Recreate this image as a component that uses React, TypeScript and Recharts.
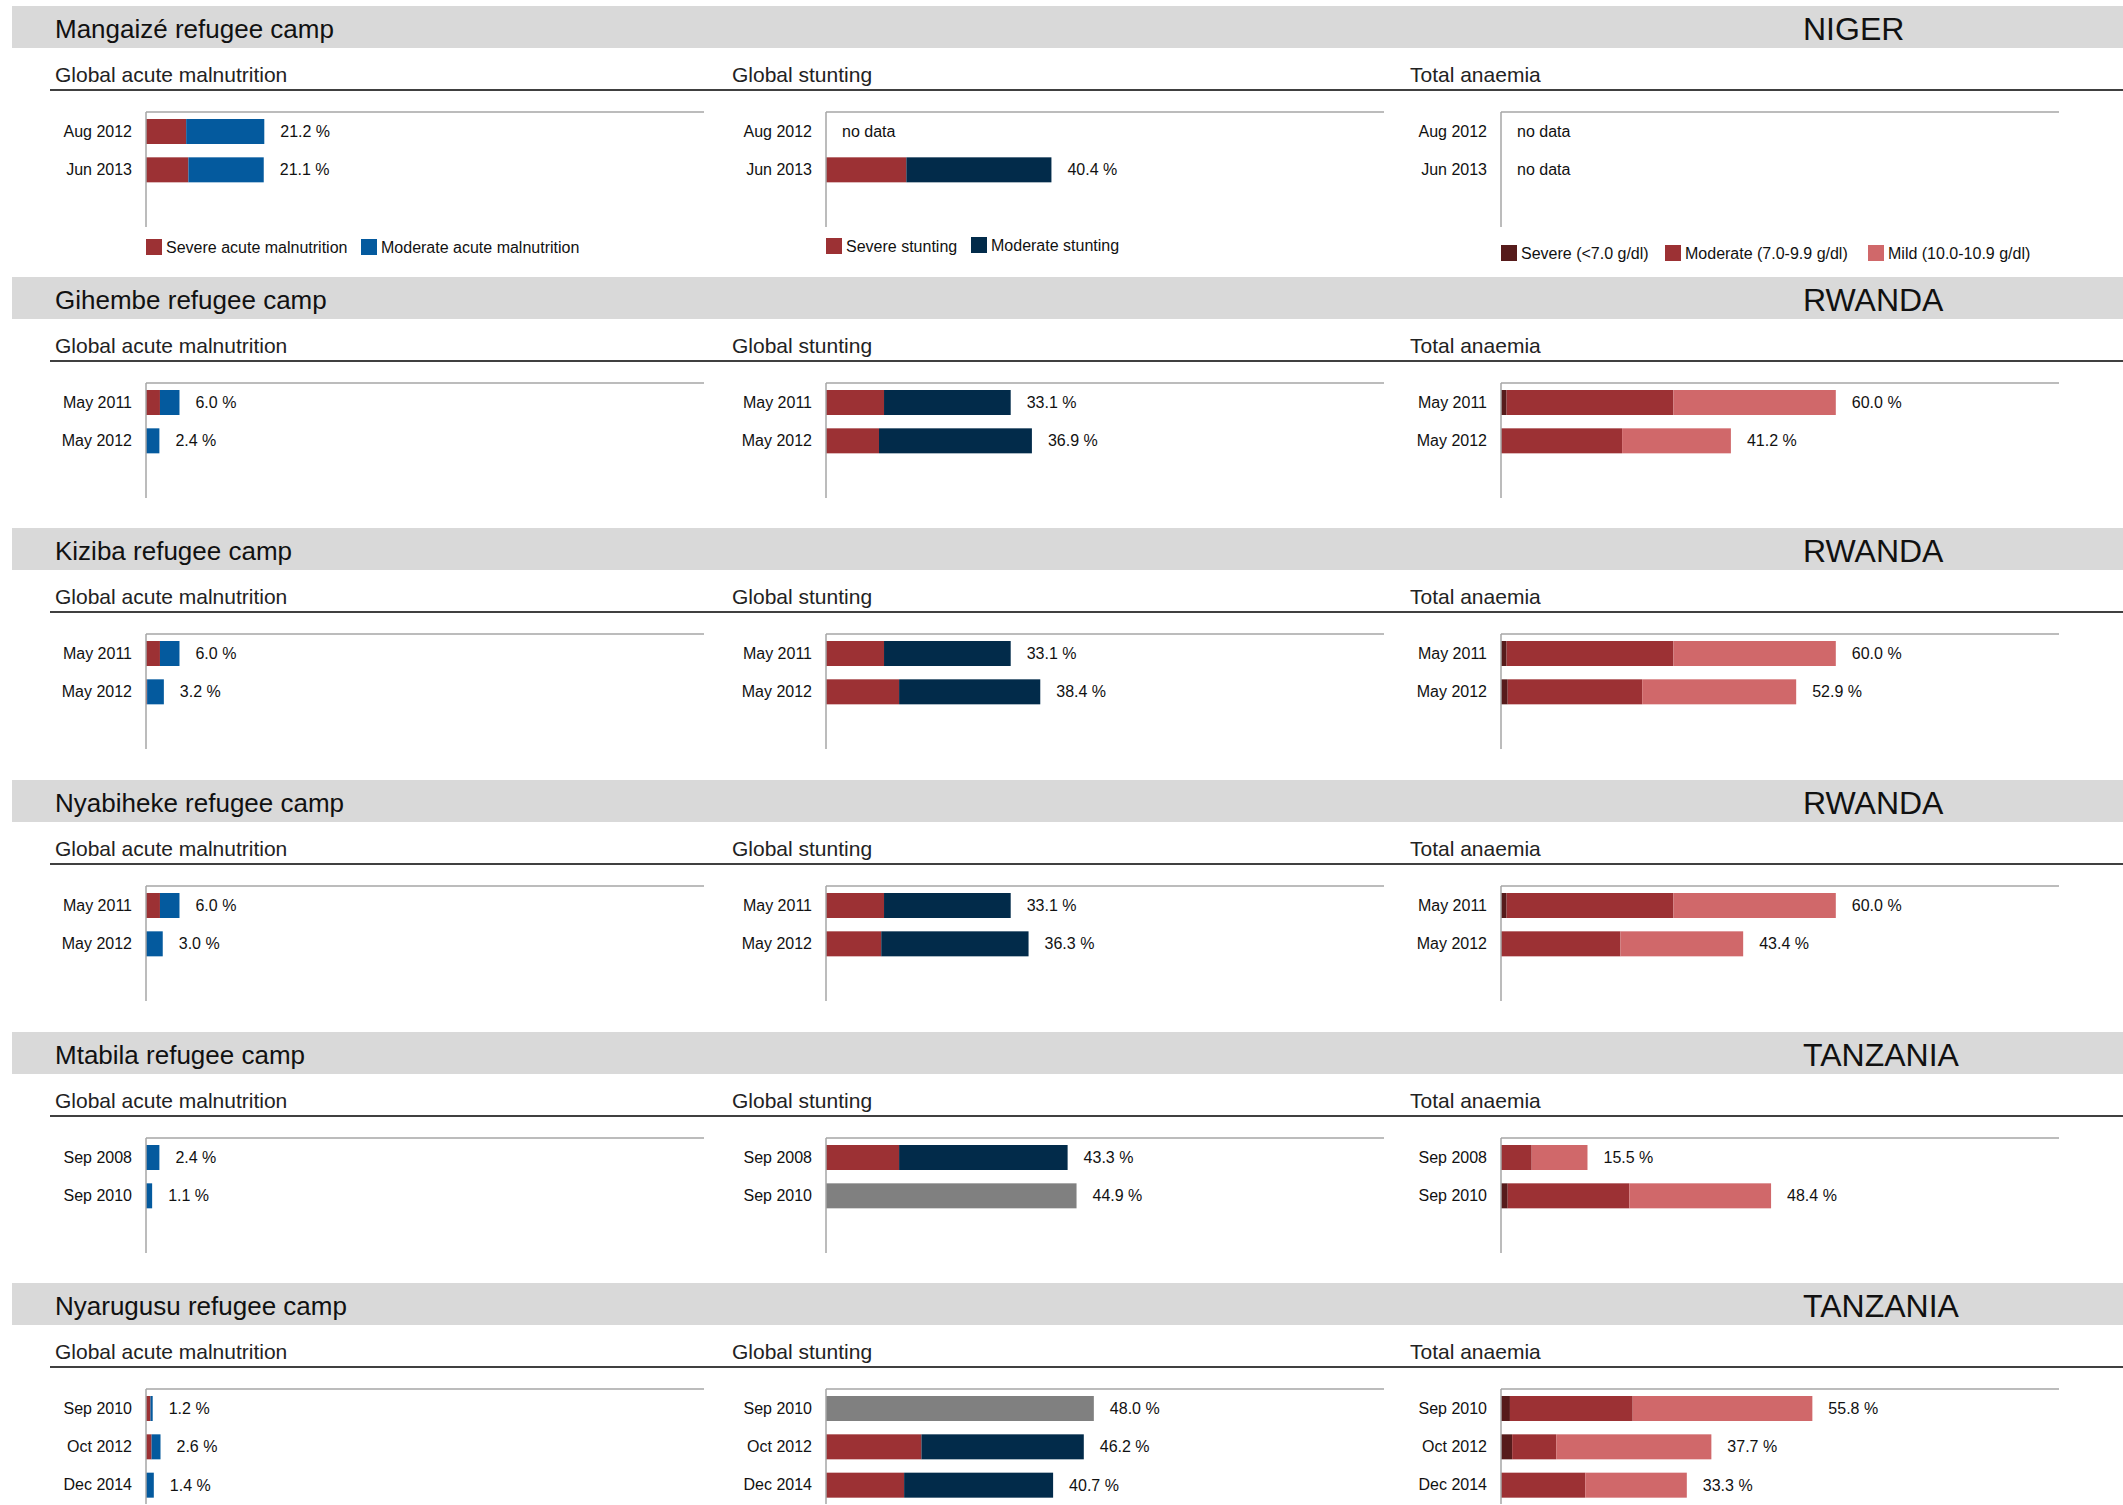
import React from 'react';
import { Bar, BarChart, XAxis, YAxis } from 'recharts';

const camps = [
  'Mangaizé refugee camp',
  'Gihembe refugee camp',
  'Kiziba refugee camp',
  'Nyabiheke refugee camp',
  'Mtabila refugee camp',
  'Nyarugusu refugee camp',
];
const countries = ['NIGER', 'RWANDA', 'RWANDA', 'RWANDA', 'TANZANIA', 'TANZANIA'];
const surveyDates = [
  ['Aug 2012', 'Jun 2013'],
  ['May 2011', 'May 2012'],
  ['May 2011', 'May 2012'],
  ['May 2011', 'May 2012'],
  ['Sep 2008', 'Sep 2010'],
  ['Sep 2010', 'Oct 2012', 'Dec 2014'],
];

// global acute malnutrition
const gamSevere = [[7.2, 7.6], [2.5, 0], [2.5, 0.2], [2.5, 0], [0, 0], [0.8, 1.0, 0]];
const gamModerate = [[14.0, 13.5], [3.5, 2.4], [3.5, 3.0], [3.5, 3.0], [2.4, 1.1], [0.4, 1.6, 1.4]];
const gamTotal = [[21.2, 21.1], [6.0, 2.4], [6.0, 3.2], [6.0, 3.0], [2.4, 1.1], [1.2, 2.6, 1.4]];

// stunting
const stuntSevere = [[null, 14.4], [10.4, 9.5], [10.4, 13.1], [10.4, 9.9], [13.1, null], [null, 17.1, 14.0]];
const stuntModerate = [[null, 26.0], [22.7, 27.4], [22.7, 25.3], [22.7, 26.4], [30.2, null], [null, 29.1, 26.7]];
const stuntNoSplit = [[null, null], [null, null], [null, null], [null, null], [null, 44.9], [48.0, null, null]];
const stuntTotal = [[null, 40.4], [33.1, 36.9], [33.1, 38.4], [33.1, 36.3], [43.3, 44.9], [48.0, 46.2, 40.7]];

// anaemia
const anaSevere = [[null, null], [1.0, 0], [1.0, 1.2], [1.0, 0], [0, 1.2], [1.6, 2.0, 0]];
const anaModerate = [[null, null], [29.9, 21.7], [29.9, 24.1], [29.9, 21.4], [5.5, 21.8], [22.0, 7.9, 15.1]];
const anaMild = [[null, null], [29.1, 19.5], [29.1, 27.6], [29.1, 22.0], [10.0, 25.4], [32.2, 27.8, 18.2]];
const anaTotal = [[null, null], [60.0, 41.2], [60.0, 52.9], [60.0, 43.4], [15.5, 48.4], [55.8, 37.7, 33.3]];

const FONT = "'Liberation Sans', Arial, sans-serif";
const RED = '#9C3134';
const BLUE = '#045A9E';
const NAVY = '#022B4A';
const DARK = '#561B1B';
const PINK = '#D0686A';
const GREY = '#808080';
const AXIS = '#A6A6A6';

const sectionTop = [6, 277, 528, 780, 1032, 1283];
const axisX = [146, 826, 1501];
const subtitleX = [55, 732, 1410];
const subtitles = ['Global acute malnutrition', 'Global stunting', 'Total anaemia'];
const YW = 100;
const PLOT_W = 558;

type Row = { date: string; sum: number | null; lastKey: string | null; [k: string]: any };
type Part = { key: string; color: string; values: (number | null)[] };

function buildRows(dates: string[], parts: Part[], totals: (number | null)[]): Row[] {
  const rows: Row[] = dates.map((date, i) => {
    const row: Row = { date, sum: totals[i], lastKey: null };
    parts.forEach(p => {
      const v = p.values[i];
      row[p.key] = v;
      if (v) row.lastKey = p.key;
    });
    return row;
  });
  while (rows.length < 3) rows.push({ date: '', sum: null, lastKey: null });
  return rows;
}

const makeShape = (key: string) => (props: any) => {
  const { x, y, width, height, fill, payload } = props;
  const showLabel = payload && payload.lastKey === key && payload.sum != null;
  return (
    <g>
      <rect x={x} y={y} width={Math.max(0, width)} height={height} fill={fill} />
      {showLabel && (
        <text x={x + width + 16} y={y + height / 2} dy={5.5} fontSize={16} fontFamily={FONT} fill="#111">
          {payload.sum.toFixed(1)} %
        </text>
      )}
    </g>
  );
};

const DateTick = (props: any) => {
  const { y, payload, rows } = props;
  if (!payload || !payload.value) return null;
  const row = rows.find((r: Row) => r.date === payload.value);
  return (
    <g>
      <text x={YW - 14} y={y} dy={5.5} textAnchor="end" fontSize={16} fontFamily={FONT} fill="#111">
        {payload.value}
      </text>
      {row && row.sum == null && (
        <text x={YW + 16} y={y} dy={5.5} fontSize={16} fontFamily={FONT} fill="#111">no data</text>
      )}
    </g>
  );
};

const Panel = ({ rows, parts, left, top }: { rows: Row[]; parts: Part[]; left: number; top: number }) => (
  <div style={{ position: 'absolute', left: left - YW, top: top - 1 }}>
    <BarChart width={YW + PLOT_W} height={116} data={rows} layout="vertical" margin={{ top: 0, right: 0, bottom: 0, left: 0 }} barCategoryGap={0}>
      <XAxis type="number" domain={[0, 100]} orientation="top" height={1} tick={false} tickLine={false} axisLine={{ stroke: AXIS, strokeWidth: 1.5 }} />
      <YAxis type="category" dataKey="date" width={YW} interval={0} tickLine={false} tickSize={0} axisLine={{ stroke: AXIS, strokeWidth: 1.5 }} tick={<DateTick rows={rows} />} />
      {parts.map(p => (
        <Bar key={p.key} dataKey={p.key} stackId="s" fill={p.color} barSize={25} isAnimationActive={false} shape={makeShape(p.key)} />
      ))}
    </BarChart>
  </div>
);

const LegendItem = ({ x, y, color, label }: { x: number; y: number; color: string; label: string }) => (
  <g>
    <rect x={x} y={y} width={16} height={16} fill={color} />
    <text x={x + 20} y={y + 14} fontSize={16} fontFamily={FONT} fill="#111">{label}</text>
  </g>
);

export default function App() {
  return (
    <div style={{ position: 'absolute', left: 0, top: 0, width: 2123, height: 1505, overflow: 'hidden', background: '#fff' }}>
      <svg width={2123} height={1505} style={{ position: 'absolute', left: 0, top: 0 }}>
        {camps.map((camp, ci) => {
          const T = sectionTop[ci];
          return (
            <g key={camp}>
              <rect x={12} y={T} width={2111} height={42} fill="#D9D9D9" />
              <text x={55} y={T + 32} fontSize={26} fontFamily={FONT} fill="#111">{camp}</text>
              <text x={1803} y={T + 34} fontSize={32} fontFamily={FONT} fill="#111">{countries[ci]}</text>
              {subtitles.map((s, si) => (
                <text key={s} x={subtitleX[si]} y={T + 76} fontSize={21} fontFamily={FONT} fill="#222">{s}</text>
              ))}
              <line x1={50} x2={2123} y1={T + 84} y2={T + 84} stroke="#000" strokeWidth={1.5} />
            </g>
          );
        })}
        <LegendItem x={146} y={239} color={RED} label="Severe acute malnutrition" />
        <LegendItem x={361} y={239} color={BLUE} label="Moderate acute malnutrition" />
        <LegendItem x={826} y={238} color={RED} label="Severe stunting" />
        <LegendItem x={971} y={237} color={NAVY} label="Moderate stunting" />
        <LegendItem x={1501} y={245} color={DARK} label="Severe (<7.0 g/dl)" />
        <LegendItem x={1665} y={245} color={RED} label="Moderate (7.0-9.9 g/dl)" />
        <LegendItem x={1868} y={245} color={PINK} label="Mild (10.0-10.9 g/dl)" />
      </svg>
      {camps.map((camp, ci) => {
        const T = sectionTop[ci];
        const dates = surveyDates[ci];
        const gamParts: Part[] = [
          { key: 'severe', color: RED, values: gamSevere[ci] },
          { key: 'moderate', color: BLUE, values: gamModerate[ci] },
        ];
        const stuntParts: Part[] = [
          { key: 'severe', color: RED, values: stuntSevere[ci] },
          { key: 'moderate', color: NAVY, values: stuntModerate[ci] },
          { key: 'unsplit', color: GREY, values: stuntNoSplit[ci] },
        ];
        const anaParts: Part[] = [
          { key: 'severe', color: DARK, values: anaSevere[ci] },
          { key: 'moderate', color: RED, values: anaModerate[ci] },
          { key: 'mild', color: PINK, values: anaMild[ci] },
        ];
        return (
          <React.Fragment key={camp}>
            <Panel rows={buildRows(dates, gamParts, gamTotal[ci])} parts={gamParts} left={axisX[0]} top={T + 106} />
            <Panel rows={buildRows(dates, stuntParts, stuntTotal[ci])} parts={stuntParts} left={axisX[1]} top={T + 106} />
            <Panel rows={buildRows(dates, anaParts, anaTotal[ci])} parts={anaParts} left={axisX[2]} top={T + 106} />
          </React.Fragment>
        );
      })}
    </div>
  );
}
